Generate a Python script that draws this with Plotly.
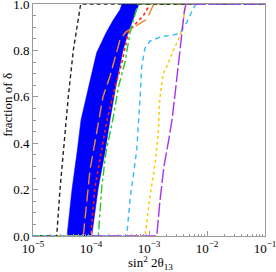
import plotly.graph_objects as go

# fraction levels and sin^2(2theta13) values
black_x = [1e-5, 2.56e-5, 2.92e-5, 3.56e-5, 4.06e-5, 4.95e-5, 5.97e-5, 6.64e-5, 1e-1]
black_f = [0, 0, 0.2, 0.44, 0.6, 0.8, 0.93, 1.0, 1.0]

band_f = [0, 0.2, 0.36, 0.5, 0.65, 0.79, 0.875, 0.93, 0.975, 1.0]
band_lo = [3.86e-5, 4.70e-5, 5.74e-5, 6.72e-5, 9.24e-5, 1.25e-4, 1.81e-4, 2.40e-4, 3.16e-4, 3.42e-4]
band_hi_f = [0, 0.2, 0.36, 0.5, 0.65, 0.8, 0.875, 0.93, 1.0]
band_hi = [1.03e-4, 1.32e-4, 1.74e-4, 2.13e-4, 2.70e-4, 3.56e-4, 4.34e-4, 5.30e-4, 6.72e-4]

orange_x = [1e-5, 7.36e-5, 9.61e-5, 1.34e-4, 1.61e-4, 2.13e-4, 3.16e-4, 4.01e-4, 5.74e-4, 9.24e-4, 1.11e-3, 1.22e-3, 1e-1]
orange_f = [0, 0, 0.284, 0.49, 0.6, 0.69, 0.845, 0.88, 0.905, 0.935, 0.98, 1.0, 1.0]

red_x = [1e-5, 9.88e-5, 1.17e-4, 1.49e-4, 1.89e-4, 2.59e-4, 3.38e-4, 4.13e-4, 4.40e-4, 6.14e-4, 7.98e-4, 9.13e-4, 1.02e-3, 1e-1]
red_f = [0, 0, 0.21, 0.36, 0.5, 0.64, 0.744, 0.845, 0.88, 0.92, 0.95, 0.974, 1.0, 1.0]

green_x = [1e-5, 1.34e-4, 1.53e-4, 1.81e-4, 2.37e-4, 2.96e-4, 3.86e-4, 4.40e-4, 4.70e-4, 5.36e-4, 6.14e-4, 6.46e-4, 1e-1]
green_f = [0, 0, 0.21, 0.36, 0.5, 0.64, 0.75, 0.845, 0.875, 0.93, 0.985, 1.0, 1.0]

yellow_x = [1e-5, 8.53e-4, 1.04e-3, 1.27e-3, 1.45e-3, 1.52e-3, 1.66e-3, 1.76e-3, 2.15e-3, 2.62e-3, 3.20e-3, 3.66e-3, 3.90e-3, 4.18e-3, 4.34e-3, 1e-1]
yellow_f = [0, 0, 0.17, 0.31, 0.45, 0.58, 0.658, 0.70, 0.744, 0.80, 0.845, 0.888, 0.93, 0.974, 1.0, 1.0]

cyan_x = [1e-5, 4.13e-4, 4.70e-4, 6.14e-4, 7.00e-4, 7.48e-4, 8.53e-4, 1.04e-3, 1.66e-3, 2.62e-3, 3.42e-3, 4.47e-3, 5.30e-3, 6.46e-3, 1e-1]
cyan_f = [0, 0, 0.155, 0.37, 0.59, 0.73, 0.81, 0.84, 0.86, 0.866, 0.875, 0.92, 0.96, 1.0, 1.0]

purple_x = [1e-4, 1.36e-3, 1.55e-3, 1.81e-3, 2.21e-3, 2.49e-3, 2.75e-3, 3.16e-3, 3.71e-3, 4.09e-3, 4.34e-3, 1e-1]
purple_f = [0, 0, 0.155, 0.3, 0.42, 0.5, 0.59, 0.73, 0.874, 0.974, 1.0, 1.0]

x_major = [1e-5, 1e-4, 1e-3, 1e-2, 1e-1]
x_major_text = ["10<sup>−5</sup>", "10<sup>−4</sup>", "10<sup>−3</sup>", "10<sup>−2</sup>", "10<sup>−1</sup>"]
x_minor = [m * 10 ** e for e in range(-5, -1) for m in range(2, 10)]

fig = go.Figure()

fig.add_trace(go.Scatter(
    x=band_lo + band_hi[::-1], y=band_f + band_hi_f[::-1],
    fill="toself", fillcolor="#0000FF", mode="lines",
    line=dict(color="#0000FF", width=0.5), showlegend=False, hoverinfo="skip"))

def add_line(x, y, color, dash, width=1.4):
    fig.add_trace(go.Scatter(x=x, y=y, mode="lines", showlegend=False,
                             line=dict(color=color, dash=dash, width=width)))

add_line(orange_x, orange_f, "#F28C28", "12px,5px")
add_line(red_x, red_f, "#FF1A1A", "dot", 1.6)
add_line(green_x, green_f, "#22CC22", "dashdot")
add_line(yellow_x, yellow_f, "#FFCC11", "dot", 1.6)
add_line(black_x, black_f, "#222222", "4px,3px")
add_line(cyan_x, cyan_f, "#33BBFF", "5px,4px")
add_line(purple_x, purple_f, "#A733F0", "14px,3px")

font_family = "Liberation Serif, Times New Roman, serif"

fig.update_layout(
    width=276, height=272,
    margin=dict(l=33, r=11, t=4, b=36),
    paper_bgcolor="white", plot_bgcolor="white",
    font=dict(family=font_family, size=13, color="black"),
    annotations=[
        dict(text="fraction of δ", textangle=-90, xref="paper", yref="paper",
             x=-0.108, y=0.565, xanchor="center", yanchor="middle",
             showarrow=False, font=dict(size=13)),
        dict(text="sin<sup>2</sup> 2θ<sub>13</sub>", xref="paper", yref="paper",
             x=0.505, y=-0.118, xanchor="center", yanchor="middle",
             showarrow=False, font=dict(size=13)),
    ],
)

fig.update_xaxes(
    type="log", range=[-5, -1], tickmode="array", tickvals=x_major,
    ticktext=x_major_text, ticklabeloverflow="allow",
    ticks="inside", ticklen=5, tickcolor="#999999", tickwidth=1,
    minor=dict(tickmode="array", tickvals=x_minor, ticks="inside", ticklen=2.5,
               tickcolor="#999999", showgrid=False),
    showline=True, linecolor="#999999", linewidth=1, mirror=True,
    showgrid=False, zeroline=False,
    automargin=False,
)
fig.update_yaxes(
    range=[0, 1], tickmode="linear", dtick=0.2, tick0=0, tickformat=".1f",
    ticklabeloverflow="allow",
    ticks="inside", ticklen=5, tickcolor="#999999", tickwidth=1,
    minor=dict(dtick=0.05, ticks="inside", ticklen=2.5, tickcolor="#999999",
               showgrid=False),
    showline=True, linecolor="#999999", linewidth=1, mirror=True,
    showgrid=False, zeroline=False,
    automargin=False,
)

fig.write_html("out.html", config={"displayModeBar": False},
               post_script="document.body.style.margin='0';")
